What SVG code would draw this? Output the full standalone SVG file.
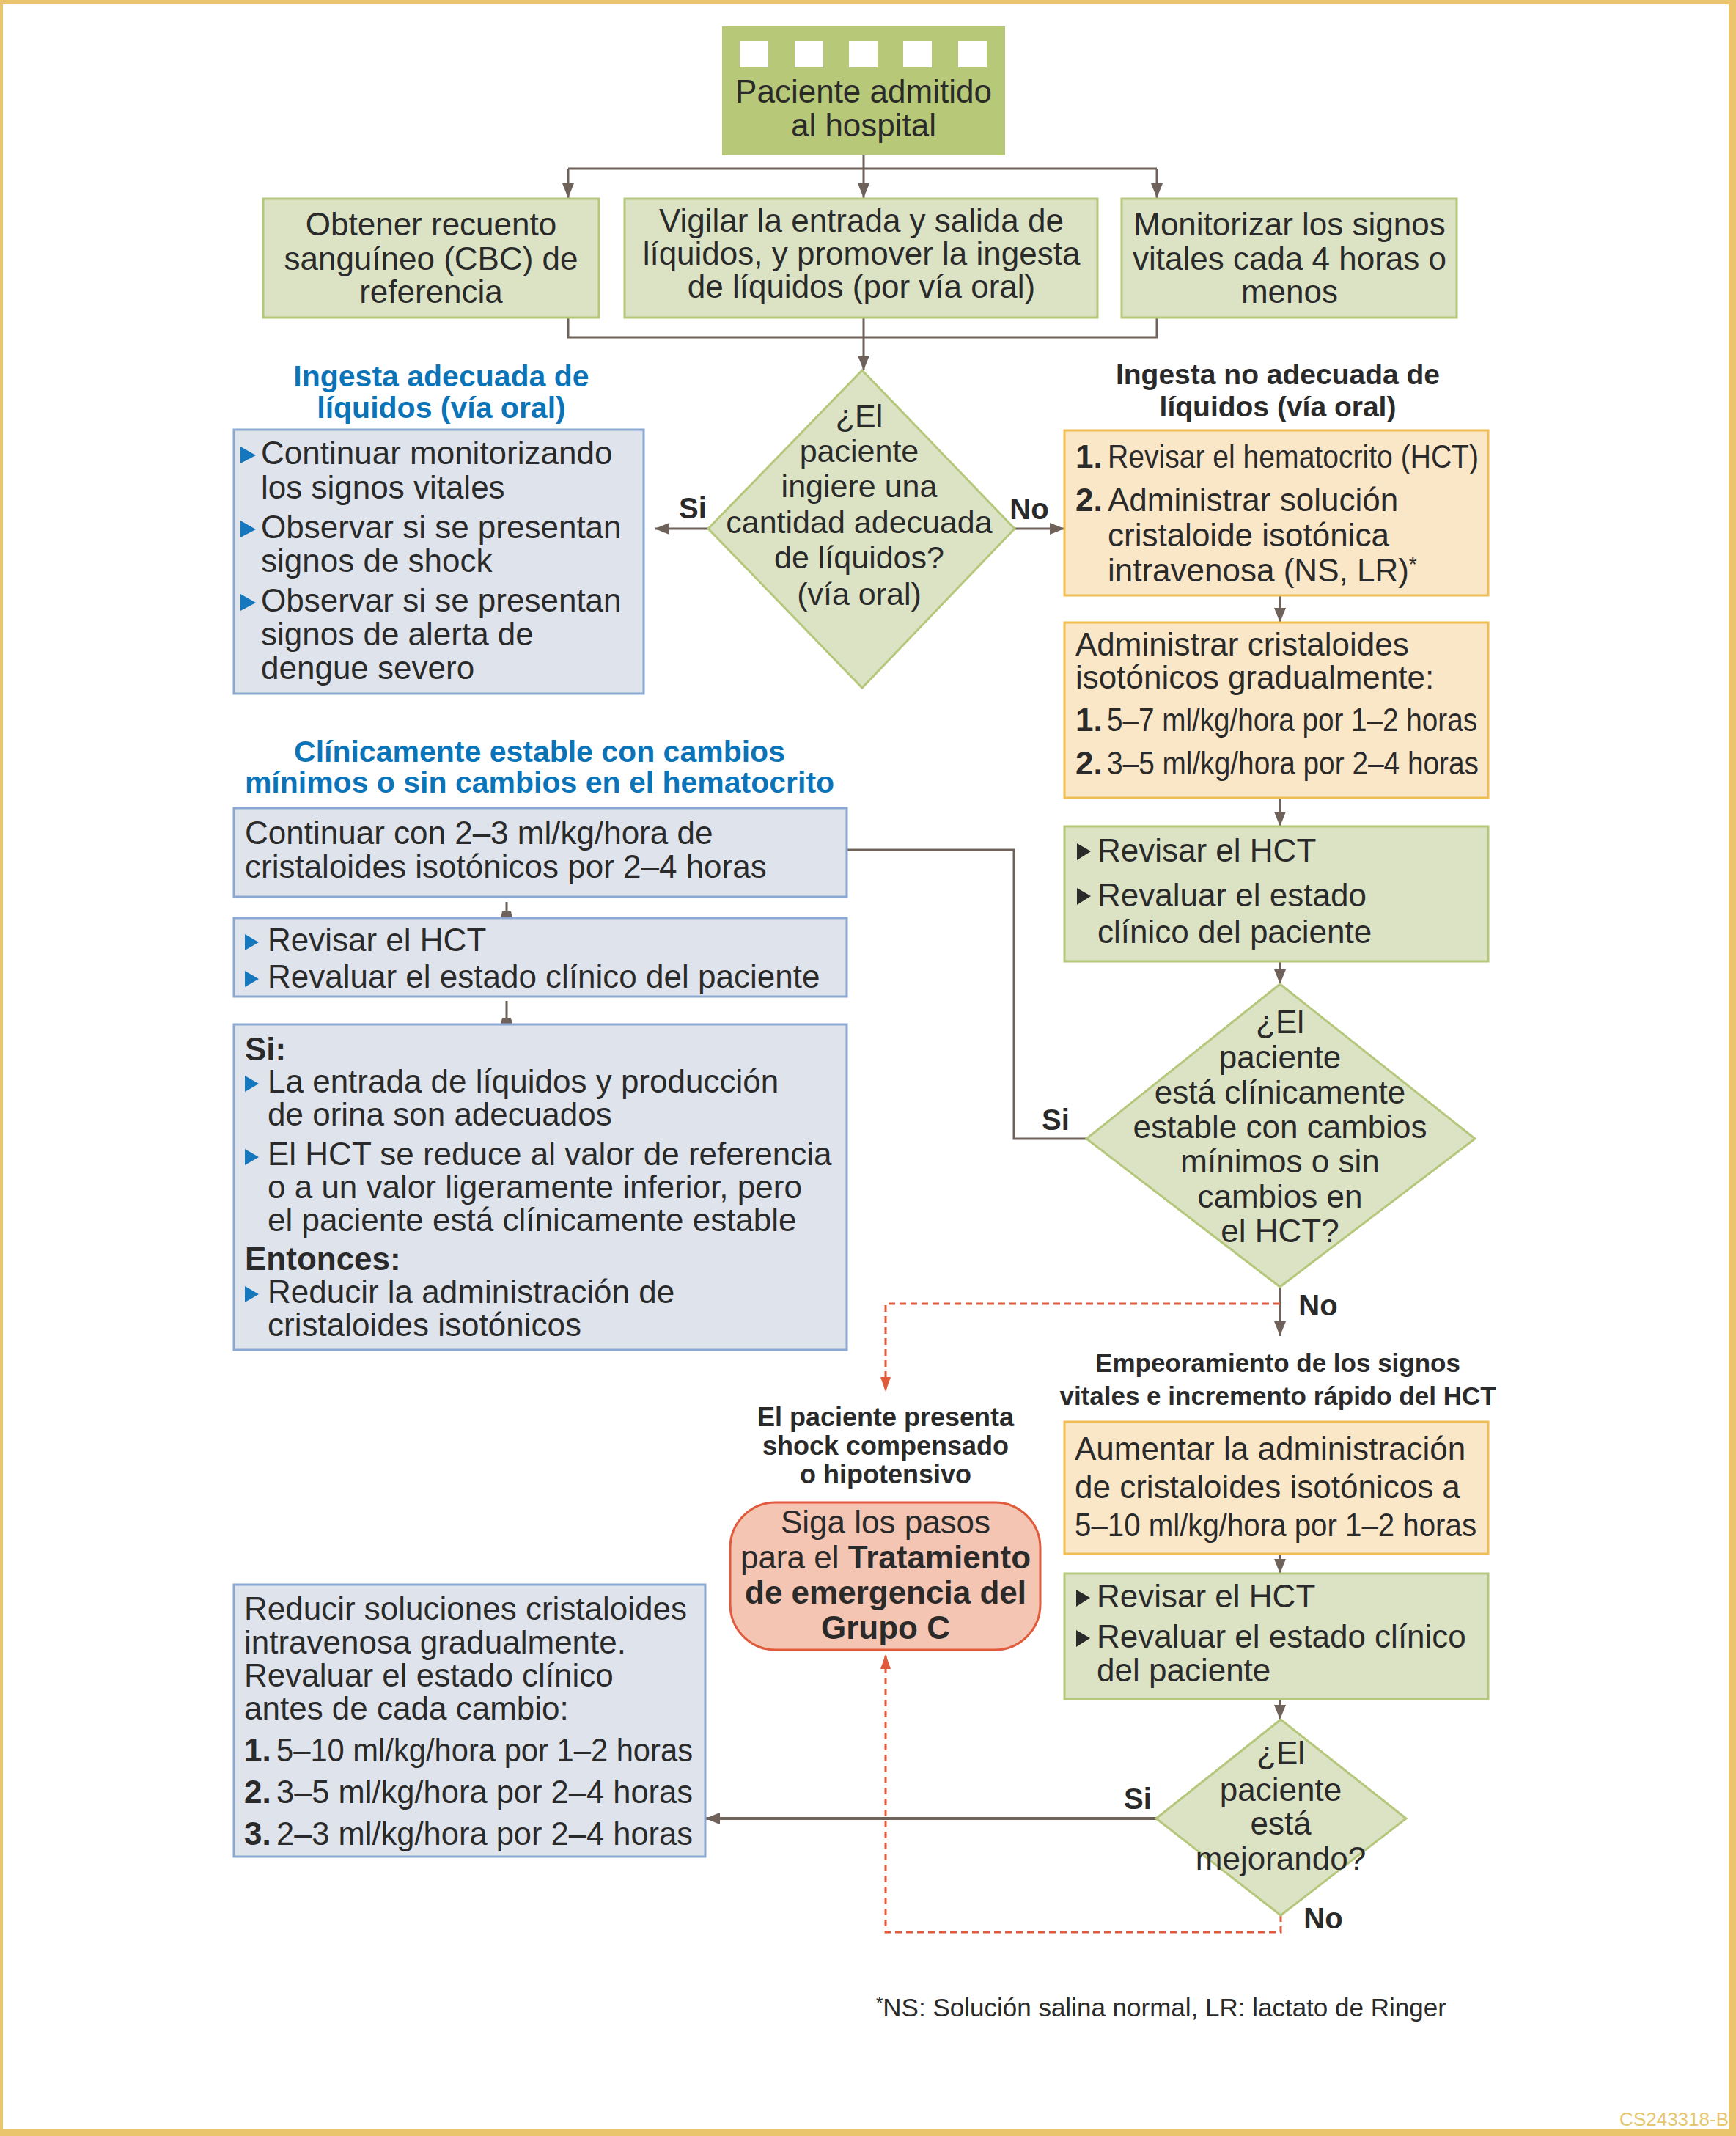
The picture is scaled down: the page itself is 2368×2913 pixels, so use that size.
<svg xmlns="http://www.w3.org/2000/svg" width="2368" height="2913" viewBox="0 0 2368 2913">
<defs>
<style>
text{font-family:"Liberation Sans",Arial,sans-serif;fill:#2A2A2A;font-size:44px}
.c{text-anchor:middle}
.b{font-weight:bold}
.hb{fill:#0B74B8;font-weight:bold;font-size:41px}
.hd{font-weight:bold;font-size:36px}
.lbl{font-weight:bold;font-size:40px}
.gr{fill:#DCE3C5;stroke:#B5C77A;stroke-width:3}
.or{fill:#FAE7C7;stroke:#F0BE55;stroke-width:3}
.bl{fill:#DFE4EC;stroke:#8BA8D3;stroke-width:3}
.rd{fill:#F3C5B2;stroke:#E05A3B;stroke-width:3}
.ln{fill:none;stroke:#6E625A;stroke-width:3}
.dash{fill:none;stroke:#E05A3B;stroke-width:3;stroke-dasharray:9 6}
.bub{fill:#1577BE}
.buk{fill:#2A2A2A}
</style>
<marker id="ah" markerUnits="userSpaceOnUse" markerWidth="20" markerHeight="16" refX="20" refY="8" orient="auto"><path d="M0,0 L20,8 L0,16 z" fill="#6E625A"/></marker>
<marker id="ahs" markerUnits="userSpaceOnUse" markerWidth="9" markerHeight="16" refX="9" refY="8" orient="auto"><path d="M0,2 L9,0 L9,16 L0,14 z" fill="#6E625A"/></marker>
<marker id="ahr" markerUnits="userSpaceOnUse" markerWidth="20" markerHeight="14" refX="20" refY="7" orient="auto"><path d="M0,0 L20,7 L0,14 z" fill="#E05A3B"/></marker>
</defs>
<rect width="2368" height="2913" fill="#FFFFFF"/>
<g id="frame" fill="#EBC46E">
<rect x="0" y="0" width="2368" height="6"/>
<rect x="0" y="0" width="4" height="2913"/>
<rect x="2358" y="0" width="10" height="2913"/>
<rect x="0" y="2904" width="2368" height="9"/>
</g>
<g id="connectors">
<polyline class="ln" points="1178,212 1178,230"/>
<polyline class="ln" points="775,230 1578,230"/>
<line class="ln" x1="775" y1="230" x2="775" y2="270" marker-end="url(#ah)"/>
<line class="ln" x1="1178" y1="230" x2="1178" y2="270" marker-end="url(#ah)"/>
<line class="ln" x1="1578" y1="230" x2="1578" y2="270" marker-end="url(#ah)"/>
<polyline class="ln" points="775,433 775,460 1578,460 1578,433"/>
<line class="ln" x1="1178" y1="433" x2="1178" y2="505" marker-end="url(#ah)"/>
<line class="ln" x1="966" y1="721" x2="893" y2="721" marker-end="url(#ah)"/>
<line class="ln" x1="1384" y1="721" x2="1452" y2="721" marker-end="url(#ah)"/>
<line class="ln" x1="1746" y1="812" x2="1746" y2="849" marker-end="url(#ah)"/>
<line class="ln" x1="1746" y1="1088" x2="1746" y2="1127" marker-end="url(#ah)"/>
<line class="ln" x1="1746" y1="1311" x2="1746" y2="1342" marker-end="url(#ah)"/>
<polyline class="ln" points="1482,1553 1383,1553 1383,1159 1155,1159"/>
<line class="ln" x1="1746" y1="1755" x2="1746" y2="1822" marker-end="url(#ah)"/>
<polyline class="dash" points="1746,1778 1208,1778 1208,1898" marker-end="url(#ahr)"/>
<line class="ln" x1="691" y1="1230" x2="691" y2="1252" marker-end="url(#ahs)"/>
<line class="ln" x1="691" y1="1365" x2="691" y2="1397" marker-end="url(#ahs)"/>
<line class="ln" x1="1746" y1="2119" x2="1746" y2="2146" marker-end="url(#ah)"/>
<line class="ln" x1="1746" y1="2317" x2="1746" y2="2345" marker-end="url(#ah)"/>
<line class="ln" style="stroke-width:4" x1="1577" y1="2480" x2="962" y2="2480" marker-end="url(#ah)"/>
<polyline class="dash" points="1747,2612 1747,2635 1208,2635 1208,2256" marker-end="url(#ahr)"/>
</g>
<g id="labels">
<text class="lbl c" x="945" y="707">Si</text>
<text class="lbl c" x="1404" y="708">No</text>
<text class="lbl c" x="1440" y="1541">Si</text>
<text class="lbl c" x="1798" y="1794">No</text>
<text class="lbl c" x="1552" y="2467">Si</text>
<text class="lbl c" x="1805" y="2630">No</text>
</g>
<g id="n-admit">
<rect x="985" y="36" width="386" height="176" fill="#B7C978"/>
<g fill="#FFFFFF">
<rect x="1009" y="56" width="39" height="36"/>
<rect x="1084" y="56" width="39" height="36"/>
<rect x="1158" y="56" width="39" height="36"/>
<rect x="1232" y="56" width="39" height="36"/>
<rect x="1307" y="56" width="39" height="36"/>
</g>
<text class="c" x="1178" y="140">Paciente admitido</text>
<text class="c" x="1178" y="186">al hospital</text>
</g>
<g id="n-cbc">
<rect class="gr" x="359" y="271" width="458" height="162"/>
<text class="c" x="588" y="321">Obtener recuento</text>
<text class="c" x="588" y="368">sanguíneo (CBC) de</text>
<text class="c" x="588" y="413">referencia</text>
</g>
<g id="n-vigilar">
<rect class="gr" x="852" y="271" width="645" height="162"/>
<text class="c" x="1175" y="316">Vigilar la entrada y salida de</text>
<text class="c" x="1175" y="361">líquidos, y promover la ingesta</text>
<text class="c" x="1175" y="406">de líquidos (por vía oral)</text>
</g>
<g id="n-monitor">
<rect class="gr" x="1530" y="271" width="457" height="162"/>
<text class="c" x="1759" y="321">Monitorizar los signos</text>
<text class="c" x="1759" y="368">vitales cada 4 horas o</text>
<text class="c" x="1759" y="413">menos</text>
</g>
<g id="d-ingiere">
<polygon class="gr" points="1176,505 1384,721 1176,938 966,721"/>
<text class="c" x="1172" y="582" style="font-size:43px">¿El</text>
<text class="c" x="1172" y="630" style="font-size:43px">paciente</text>
<text class="c" x="1172" y="678" style="font-size:43px">ingiere una</text>
<text class="c" x="1172" y="727" style="font-size:43px">cantidad adecuada</text>
<text class="c" x="1172" y="775" style="font-size:43px">de líquidos?</text>
<text class="c" x="1172" y="825" style="font-size:43px">(vía oral)</text>
</g>
<g id="n-adecuada">
<text class="hb c" x="602" y="527">Ingesta adecuada de</text>
<text class="hb c" x="602" y="570">líquidos (vía oral)</text>
<rect class="bl" x="319" y="586" width="559" height="360"/>
<polygon class="bub" points="328,609 349,621 328,632"/>
<polygon class="bub" points="328,710 349,722 328,733"/>
<polygon class="bub" points="328,810 349,822 328,833"/>
<g style="font-size:46px">
<text x="356" y="633">Continuar monitorizando</text>
<text x="356" y="680">los signos vitales</text>
<text x="356" y="734">Observar si se presentan</text>
<text x="356" y="780">signos de shock</text>
<text x="356" y="834">Observar si se presentan</text>
<text x="356" y="880">signos de alerta de</text>
<text x="356" y="926">dengue severo</text>
</g>
</g>
<g id="n-noadecuada">
<text class="hd c" x="1743" y="524" style="font-size:39px">Ingesta no adecuada de</text>
<text class="hd c" x="1743" y="568" style="font-size:39px">líquidos (vía oral)</text>
<rect class="or" x="1452" y="587" width="578" height="225"/>
<text class="b" x="1467" y="638">1.</text>
<text x="1511" y="638" textLength="506" lengthAdjust="spacingAndGlyphs">Revisar el hematocrito (HCT)</text>
<text class="b" x="1467" y="697">2.</text>
<text x="1511" y="697">Administrar solución</text>
<text x="1511" y="745">cristaloide isotónica</text>
<text x="1511" y="793">intravenosa (NS, LR)<tspan style="font-size:28px" dy="-14">*</tspan></text>
</g>
<g id="n-gradual">
<rect class="or" x="1452" y="849" width="578" height="239"/>
<text x="1467" y="894">Administrar cristaloides</text>
<text x="1467" y="939">isotónicos gradualmente:</text>
<text class="b" x="1467" y="997">1.</text>
<text x="1510" y="997" textLength="505" lengthAdjust="spacingAndGlyphs">5–7 ml/kg/hora por 1–2 horas</text>
<text class="b" x="1467" y="1056">2.</text>
<text x="1510" y="1056" textLength="507" lengthAdjust="spacingAndGlyphs">3–5 ml/kg/hora por 2–4 horas</text>
</g>
<g id="n-revisar1">
<rect class="gr" x="1452" y="1127" width="578" height="184"/>
<polygon class="buk" points="1469,1150 1488,1161 1469,1173"/>
<polygon class="buk" points="1469,1211 1488,1222 1469,1234"/>
<text x="1497" y="1175">Revisar el HCT</text>
<text x="1497" y="1236">Revaluar el estado</text>
<text x="1497" y="1286">clínico del paciente</text>
</g>
<g id="d-estable">
<polygon class="gr" points="1746,1342 2012,1553 1746,1755 1482,1553"/>
<text class="c" x="1746" y="1409">¿El</text>
<text class="c" x="1746" y="1457">paciente</text>
<text class="c" x="1746" y="1505">está clínicamente</text>
<text class="c" x="1746" y="1552">estable con cambios</text>
<text class="c" x="1746" y="1599">mínimos o sin</text>
<text class="c" x="1746" y="1647">cambios en</text>
<text class="c" x="1746" y="1694">el HCT?</text>
</g>
<g id="n-continuar">
<text class="hb c" x="736" y="1039">Clínicamente estable con cambios</text>
<text class="hb c" x="736" y="1081">mínimos o sin cambios en el hematocrito</text>
<rect class="bl" x="319" y="1102" width="836" height="121"/>
<g style="font-size:46px">
<text x="334" y="1151">Continuar con 2–3 ml/kg/hora de</text>
<text x="334" y="1197">cristaloides isotónicos por 2–4 horas</text>
</g>
</g>
<g id="n-revisar-blue">
<rect class="bl" x="319" y="1252" width="836" height="107"/>
<polygon class="bub" points="334,1274 353,1285 334,1296"/>
<polygon class="bub" points="334,1324 353,1335 334,1346"/>
<g style="font-size:46px">
<text x="365" y="1297">Revisar el HCT</text>
<text x="365" y="1347">Revaluar el estado clínico del paciente</text>
</g>
</g>
<g id="n-si-entonces">
<rect class="bl" x="319" y="1397" width="836" height="444"/>
<polygon class="bub" points="334,1467 353,1478 334,1489"/>
<polygon class="bub" points="334,1567 353,1578 334,1589"/>
<polygon class="bub" points="334,1754 353,1765 334,1776"/>
<g style="font-size:45px">
<text class="b" x="334" y="1446">Si:</text>
<text x="365" y="1490">La entrada de líquidos y producción</text>
<text x="365" y="1535">de orina son adecuados</text>
<text x="365" y="1589">El HCT se reduce al valor de referencia</text>
<text x="365" y="1634">o a un valor ligeramente inferior, pero</text>
<text x="365" y="1679">el paciente está clínicamente estable</text>
<text class="b" x="334" y="1732">Entonces:</text>
<text x="365" y="1777">Reducir la administración de</text>
<text x="365" y="1822">cristaloides isotónicos</text>
</g>
</g>
<g id="n-shock">
<text class="hd c" x="1208" y="1945">El paciente presenta</text>
<text class="hd c" x="1208" y="1984">shock compensado</text>
<text class="hd c" x="1208" y="2023">o hipotensivo</text>
<rect class="rd" x="996" y="2049" width="423" height="201" rx="62"/>
<text class="c" x="1208" y="2091">Siga los pasos</text>
<text class="c" x="1208" y="2139">para el <tspan class="b">Tratamiento</tspan></text>
<text class="c b" x="1208" y="2187">de emergencia del</text>
<text class="c b" x="1208" y="2235">Grupo C</text>
</g>
<g id="n-aumentar">
<text class="hd c" x="1743" y="1871" style="font-size:35px">Empeoramiento de los signos</text>
<text class="hd c" x="1743" y="1916" style="font-size:35px">vitales e incremento rápido del HCT</text>
<rect class="or" x="1452" y="1939" width="578" height="180"/>
<text x="1466" y="1991">Aumentar la administración</text>
<text x="1466" y="2043">de cristaloides isotónicos a</text>
<text x="1466" y="2095" textLength="548" lengthAdjust="spacingAndGlyphs">5–10 ml/kg/hora por 1–2 horas</text>
</g>
<g id="n-revisar2">
<rect class="gr" x="1452" y="2146" width="578" height="171"/>
<polygon class="buk" points="1468,2168 1487,2179 1468,2191"/>
<polygon class="buk" points="1468,2223 1487,2234 1468,2246"/>
<text x="1496" y="2192">Revisar el HCT</text>
<text x="1496" y="2247">Revaluar el estado clínico</text>
<text x="1496" y="2293">del paciente</text>
</g>
<g id="d-mejorando">
<polygon class="gr" points="1747,2345 1918,2480 1747,2612 1577,2480"/>
<text class="c" x="1747" y="2406">¿El</text>
<text class="c" x="1747" y="2456">paciente</text>
<text class="c" x="1747" y="2502">está</text>
<text class="c" x="1747" y="2550">mejorando?</text>
</g>
<g id="n-reducir">
<rect class="bl" x="319" y="2161" width="643" height="371"/>
<text x="333" y="2209">Reducir soluciones cristaloides</text>
<text x="333" y="2255">intravenosa gradualmente.</text>
<text x="333" y="2300">Revaluar el estado clínico</text>
<text x="333" y="2345">antes de cada cambio:</text>
<text class="b" x="333" y="2402">1.</text>
<text x="377" y="2402" textLength="568" lengthAdjust="spacingAndGlyphs">5–10 ml/kg/hora por 1–2 horas</text>
<text class="b" x="333" y="2459">2.</text>
<text x="377" y="2459" textLength="568" lengthAdjust="spacingAndGlyphs">3–5 ml/kg/hora por 2–4 horas</text>
<text class="b" x="333" y="2516">3.</text>
<text x="377" y="2516" textLength="568" lengthAdjust="spacingAndGlyphs">2–3 ml/kg/hora por 2–4 horas</text>
</g>
<g id="footnote">
<text x="1195" y="2750" style="font-size:35px"><tspan style="font-size:24px" dy="-10">*</tspan><tspan dy="10">NS: Solución salina normal, LR: lactato de Ringer</tspan></text>
<text x="2358" y="2899" style="font-size:26px;fill:#E6C66E;text-anchor:end">CS243318-B</text>
</g>
</svg>
